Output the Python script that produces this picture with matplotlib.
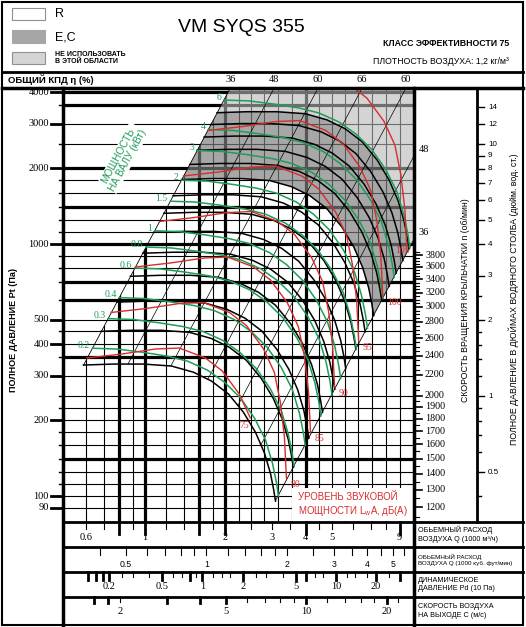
import numpy as np
import matplotlib
matplotlib.use("Agg")
import matplotlib.pyplot as plt
from matplotlib.patches import Polygon, Rectangle

plt.rcParams['font.family'] = ['Liberation Sans', 'DejaVu Sans']
SERIF = ['Liberation Serif', 'DejaVu Serif']

W, H = 526, 627

# fan curve at 1200 rpm, Q in 1000 m3/h, P in Pa
base_q = [0.588, 0.762, 0.987, 1.257, 1.519, 1.774, 2.055, 2.338, 2.594, 2.803, 2.951, 3.029, 3.082]
base_p = [331, 334, 334, 328, 310, 286, 254, 215, 179, 148, 123, 107, 95.5]
rpm_curves = [1200, 1400, 1600, 1800, 2000, 2200, 2400, 2600, 2800, 3000, 3200, 3400, 3600, 3800]
rpm_band = (2800, 3800)   # E,C zone

# shaft power lines (kW), shape given by the 0.2 kW line
power_q = [0.636, 0.789, 0.979, 1.214, 1.443, 1.714, 1.985, 2.279, 2.570, 2.827, 3.003, 3.108, 3.162]
power_p = [386, 383, 372, 359, 343, 316, 283, 245, 204, 167, 135, 113, 100]
power_kw = [0.2, 0.3, 0.4, 0.6, 0.8, 1, 1.5, 2, 3, 4, 6]
power_txt = ["0.2", "0.3", "0.4", "0.6", "0.8", "1", "1.5", "2", "3", "4", "6"]

# sound power lines dB(A), shape given by the 85 dB(A) line
sound_q = [0.92, 1.246, 1.656, 2.037, 2.550, 2.951, 3.418, 3.757, 3.957, 4.098, 4.169]
sound_p = [811, 841, 880, 888, 811, 720, 583, 469, 357, 259, 178]
sound_db = [75, 80, 85, 90, 95, 100, 105]
sound_step = 1.231        # flow ratio between lines 5 dB apart
sound_cut = {75: 8}       # the 75 line stops early

# efficiency lines P = k * Q^2
eff_k = [955, 448, 210, 98.3, 46.1, 21.6, 10.1]
eff_pct = [36, 48, 60, 66, 60, 48, 36]

grid_q = [0.6, 0.7, 0.8, 0.9, 1.0, 1.2, 1.4, 1.6, 1.8, 2.0, 2.25, 2.5, 2.8, 3.15, 3.55,
          4.0, 4.5, 5.0, 5.6, 6.3, 7.1, 8.0, 9.0]
grid_q_bold = [0.8, 1.0, 1.6, 2.0, 4.0]
grid_p = [90, 100, 112, 125, 140, 160, 180, 200, 224, 250, 300, 355, 400, 450, 500, 600, 710,
          800, 900, 1000, 1120, 1250, 1400, 1600, 1800, 2000, 2500, 3000, 3550, 4000]
grid_p_bold = [140, 355, 600, 710, 1000, 1400, 2000, 3550, 4000]
p_labels = [4000, 3000, 2000, 1000, 500, 400, 300, 200, 100, 90]

rpm_labels = [3800, 3600, 3400, 3200, 3000, 2800, 2600, 2400, 2200, 2000,
              1900, 1800, 1700, 1600, 1500, 1400, 1300, 1200]
rpm_p3800 = 904           # pressure level of the 3800 tick
inch_labels = [14, 12, 10, 9, 8, 7, 6, 5, 4, 3, 2, 1, 0.5]
inch_minor = [2.5, 1.8, 1.6, 1.4, 1.2, 0.9, 0.8, 0.7, 0.6, 0.4]
PA_PER_INCH = 249.09

outlet_area = 0.1117      # m2
rho = 1.2
M3H_PER_CFM = 1.699

q_ticks = [0.6, 0.7, 0.8, 0.9, 1, 1.2, 1.4, 1.6, 1.8, 2, 2.5, 3, 3.5, 4, 4.5, 5, 6, 7, 8, 9]
q_bold = [0.8, 1, 1.6, 2, 4, 9]
q_lab = [0.6, 1, 2, 3, 4, 5, 9]
cfm_ticks = [0.4, 0.5, 0.6, 0.7, 0.8, 0.9, 1, 1.2, 1.4, 1.6, 1.8, 2, 2.5, 3, 3.5, 4, 4.5, 5, 5.5]
cfm_lab = [0.5, 1, 2, 3, 4, 5]
pd_ticks = [0.14, 0.16, 0.18, 0.2, 0.25, 0.3, 0.4, 0.5, 0.6, 0.7, 0.8, 0.9, 1, 1.2, 1.4, 1.6,
            2, 2.5, 3, 4, 5, 6, 7, 8, 10, 12, 14, 17, 20, 25, 30]
pd_bold = [0.14, 0.16, 0.18, 0.2, 0.5, 0.8, 1, 2, 5, 6, 10, 20, 30]
pd_lab = [0.2, 0.5, 1, 2, 5, 10, 20]
c_ticks = [1.6, 1.8, 2, 3, 4, 5, 6, 7, 8, 9, 10, 12, 14, 16, 18, 20, 22]
c_bold = [1.6, 1.8, 3, 4, 5, 10, 20]
c_lab = [2, 5, 10, 20]

GREEN = '#1e9c58'
RED = '#d62d2d'

qmin, qmax = 0.493, 10.09
pmin, pmax = 78.9, 4160
kL, kR = eff_k[0], eff_k[-1]


def fx(px):
    return px / W


def fy(py):
    return 1 - py / H


def black(n):
    s = n / 1200
    return np.array(base_q) * s, np.array(base_p) * s ** 2


def green(kw):
    s = (kw / 0.2) ** (1 / 3)
    return np.array(power_q) * s, np.array(power_p) * s ** 2


def red(db):
    s = sound_step ** ((db - 85) / 5)
    k = sound_cut.get(db, len(sound_q))
    return np.array(sound_q[:k]) * s, np.array(sound_p[:k]) * s ** 2


fig = plt.figure(figsize=(W / 100, H / 100), dpi=100)

ax = fig.add_axes([fx(63), fy(522), 350 / W, 434 / H])
ax.set_xscale('log')
ax.set_yscale('log')
ax.set_xlim(qmin, qmax)
ax.set_ylim(pmin, pmax)
ax.set_axis_off()

# grid
ax.hlines(grid_p, qmin, qmax, colors='k',
          linewidths=[2.3 if p in grid_p_bold else 0.8 for p in grid_p], zorder=1)
vl = ax.vlines(grid_q, pmin, pmax, colors='k',
               linewidths=[2.3 if q in grid_q_bold else 0.8 for q in grid_q], zorder=1)
below_left = Polygon([(0.05, kL * 0.05 ** 2), (100, kL * 100 ** 2), (100, 1), (0.05, 1)],
                     closed=True, transform=ax.transData)
vl.set_clip_path(below_left)

# left axis ticks and labels
ytr = ax.get_yaxis_transform()
for p in grid_p:
    ln = 12 if p in p_labels else 4
    ax.plot([-ln / 350, 0], [p, p], color='k', lw=2.0 if p in p_labels else 1.0,
            transform=ytr, clip_on=False)
for p in p_labels:
    ax.text(-14 / 350, p, str(p), transform=ytr, ha='right', va='center',
            fontsize=7.5, family=SERIF)

# zones
q38, p38 = black(rpm_band[1])
q28, p28 = black(rpm_band[0])
band = Polygon(np.column_stack([np.r_[q38, q28[::-1]], np.r_[p38, p28[::-1]]]),
               closed=True, fc='#7e7e7e', ec='none', alpha=0.68, zorder=2)
ax.add_patch(band)
qx, py = qmax * 1.05, pmax * 1.05
light_v = [(np.sqrt(py / kL), py), (qx, py), (qx, kR * qx ** 2)] + list(zip(q38[::-1], p38[::-1]))
ax.add_patch(Polygon(light_v, closed=True, fc='#b8b8b8', ec='none', alpha=0.6, zorder=2))

# efficiency lines
q12, p12 = black(rpm_curves[0])
eff_clip = Polygon(list(zip(q12, p12)) + [(q12[-1] * 10, kR * (q12[-1] * 10) ** 2),
                                          (q12[0] * 10, kL * (q12[0] * 10) ** 2)],
                   closed=True, transform=ax.transData)
qq = np.geomspace(0.2, 40, 60)
for k in eff_k[1:-1]:
    ln, = ax.plot(qq, k * qq ** 2, color='k', lw=0.5, zorder=3)
    ln.set_clip_path(eff_clip)
ql = np.array([q12[0], np.sqrt(py / kL)])
ax.plot(ql, kL * ql ** 2, color='k', lw=0.6, zorder=3)
qr = np.array([q12[-1], qx])
ax.plot(qr, kR * qr ** 2, color='k', lw=0.6, zorder=3)

for i, k in enumerate(eff_k):
    qt = np.sqrt(pmax / k)
    if qt <= qmax:
        ax.annotate(str(eff_pct[i]), (qt, pmax), xytext=(0, 6), textcoords='offset points',
                    ha='center', va='center', fontsize=7.5, family=SERIF, annotation_clip=False)
    else:
        ax.annotate(str(eff_pct[i]), (qmax, k * qmax ** 2), xytext=(4, 6),
                    textcoords='offset points', ha='left', va='center', fontsize=7.5,
                    family=SERIF, annotation_clip=False)

# curves
for n in rpm_curves:
    q, p = black(n)
    ax.plot(q, p, color='k', lw=1.1, zorder=4)
for kw, t in zip(power_kw, power_txt):
    q, p = green(kw)
    ax.plot(q, p, color=GREEN, lw=1.1, zorder=4)
    ax.annotate(t, (q[0], p[0]), xytext=(-2, 2), textcoords='offset points', ha='right',
                va='center', color=GREEN, fontsize=7, family=SERIF)
for db in sound_db:
    q, p = red(db)
    ax.plot(q, p, color=RED, lw=1.0, zorder=4)
    if db in sound_cut:
        off, ha, va = (-1, -2), 'right', 'top'
    elif db == sound_db[-1]:
        off, ha, va = (-3, 0), 'center', 'center'
    else:
        off, ha, va = (3, -1), 'left', 'top'
    ax.annotate(str(db), (q[-1], p[-1]), xytext=off, textcoords='offset points', ha=ha, va=va,
                color=RED, fontsize=7, family=SERIF, zorder=6)

# rpm scale
for n in range(1150, 3851, 50):
    pn = rpm_p3800 * (n / 3800) ** 2
    ln = 7 if n in rpm_labels else 4
    ax.plot([1 + 2 / 350, 1 + (2 + ln) / 350], [pn, pn], color='k',
            lw=1.2 if n in rpm_labels else 0.8, transform=ytr, clip_on=False)
for n in rpm_labels:
    ax.text(1 + 12 / 350, rpm_p3800 * (n / 3800) ** 2, str(n), transform=ytr, ha='left',
            va='center', fontsize=7.2, family=SERIF)

# inch scale
x_in = (477 - 63) / 350
for v in inch_labels + inch_minor:
    ln = 7 if v in inch_labels else 4
    ax.plot([x_in, x_in + ln / 350], [v * PA_PER_INCH] * 2, color='k', lw=1.0,
            transform=ytr, clip_on=False)
for v in inch_labels:
    ax.text(x_in + 11 / 350, v * PA_PER_INCH, str(v), transform=ytr, ha='left', va='center',
            fontsize=5.8)


# bottom scales
def flow_to_speed(q):
    return q * 1000 / 3600 / outlet_area


rows = [
    (522, 547, lambda q: q, q_ticks, q_bold, q_lab, SERIF, 7.5, 0.40, 12, 7),
    (547, 572, lambda q: q / M3H_PER_CFM, cfm_ticks, [], cfm_lab, None, 6.3, 0.30, 8, 8),
    (572, 597, lambda q: 0.5 * rho * flow_to_speed(q) ** 2 / 10, pd_ticks, pd_bold, pd_lab,
     SERIF, 7.5, 0.42, 8, 5),
    (597, 625, flow_to_speed, c_ticks, c_bold, c_lab, SERIF, 7.5, 0.48, 6, 5),
]
for y0, y1, conv, ticks, bold, labs, fam, fs, ylab, lbold, lthin in rows:
    hh = y1 - y0
    r = fig.add_axes([fx(63), fy(y1), 350 / W, hh / H])
    r.set_xscale('log')
    r.set_xlim(conv(qmin), conv(qmax))
    r.set_ylim(0, 1)
    r.set_axis_off()
    xtr = r.get_xaxis_transform()
    for t in ticks:
        ln = lbold if t in bold else lthin
        r.plot([t, t], [1, 1 - ln / hh], color='k', lw=2.0 if t in bold else 0.8,
               transform=xtr, clip_on=False)
    for t in labs:
        kw = dict(family=fam) if fam else {}
        r.text(t, ylab, f"{t:g}", transform=xtr, ha='center', va='center', fontsize=fs, **kw)

# frame, headers and texts in pixel space
ov = fig.add_axes([0, 0, 1, 1], zorder=5)
ov.set_xlim(0, W)
ov.set_ylim(H, 0)
ov.set_axis_off()
ov.patch.set_alpha(0)

ov.add_patch(Rectangle((2, 2), 521, 623, fill=False, ec='k', lw=1.5))
ov.plot([2, 523], [72, 72], color='k', lw=2)
ov.plot([2, 523], [88, 88], color='k', lw=2.5)
ov.plot([63, 63], [88, 625], color='k', lw=2.5)
ov.plot([414, 414], [88, 625], color='k', lw=2.5)
ov.plot([477, 477], [88, 522], color='k', lw=2)
for yy in [522, 547, 572, 597]:
    ov.plot([63, 523], [yy, yy], color='k', lw=2)

ov.add_patch(Rectangle((12, 8), 33, 12, fc='white', ec='#909090', lw=0.8))
ov.add_patch(Rectangle((12, 30), 33, 13, fc='#a6a6a6', ec='#a6a6a6', lw=0.8))
ov.add_patch(Rectangle((12, 52), 33, 12, fc='#d4d4d4', ec='#909090', lw=0.8))
ov.text(55, 14, "R", fontsize=9, va='center')
ov.text(55, 37, "E,C", fontsize=9, va='center')
ov.text(55, 58, "НЕ ИСПОЛЬЗОВАТЬ\nВ ЭТОЙ ОБЛАСТИ", fontsize=5, va='center',
        fontweight='bold', linespacing=1.15)
ov.text(241, 28, "VM SYQS 355", fontsize=14, ha='center', va='center')
ov.text(509, 44, "КЛАСС ЭФФЕКТИВНОСТИ 75", fontsize=6.3, ha='right', va='center',
        fontweight='bold')
ov.text(509, 62, "ПЛОТНОСТЬ ВОЗДУХА: 1,2 кг/м³", fontsize=6.3, ha='right', va='center')
ov.text(8, 80, "ОБЩИЙ КПД η (%)", fontsize=6.8, va='center', fontweight='bold')

ov.text(14, 330, "ПОЛНОЕ ДАВЛЕНИЕ Pt (Па)", rotation=90, fontsize=6.5, ha='center',
        va='center', fontweight='bold')
ov.text(466, 300, "СКОРОСТЬ ВРАЩЕНИЯ КРЫЛЬЧАТКИ n (об/мин)", rotation=90, fontsize=6.3,
        ha='center', va='center')
ov.text(514, 299, "ПОЛНОЕ ДАВЛЕНИЕ В ДЮЙМАХ ВОДЯНОГО СТОЛБА (дюйм. вод. ст.)", rotation=90,
        fontsize=6.3, ha='center', va='center')

ov.text(123, 158, "МОЩНОСТЬ\nНА ВАЛУ (кВт)", rotation=62, fontsize=7.3, color=GREEN,
        ha='center', va='center', linespacing=1.1,
        bbox=dict(fc='white', ec='none', pad=0.5))
ov.add_patch(Rectangle((292, 488), 121, 33, fc='white', ec='none'))
ov.text(298, 505, "УРОВЕНЬ ЗВУКОВОЙ\nМОЩНОСТИ L$_{\\mathregular{w}}$A, дБ(А)", fontsize=6.9,
        color=RED, ha='left', va='center', linespacing=1.3)

row_txt = ["ОБЬЕМНЫЙ РАСХОД\nВОЗДУХА Q (1000 м³/ч)",
           "ОБЬЕМНЫЙ РАСХОД\nВОЗДУХА Q (1000 куб. фут/мин)",
           "ДИНАМИЧЕСКОЕ\nДАВЛЕНИЕ Pd (10 Па)",
           "СКОРОСТЬ ВОЗДУХА\nНА ВЫХОДЕ C (м/с)"]
row_fs = [5.2, 4.5, 5.2, 5.2]
for (y0, y1, *_), t, fs in zip(rows, row_txt, row_fs):
    ov.text(418, (y0 + y1) / 2, t, fontsize=fs, va='center', linespacing=1.3)

fig.savefig("out.png", dpi=100)
